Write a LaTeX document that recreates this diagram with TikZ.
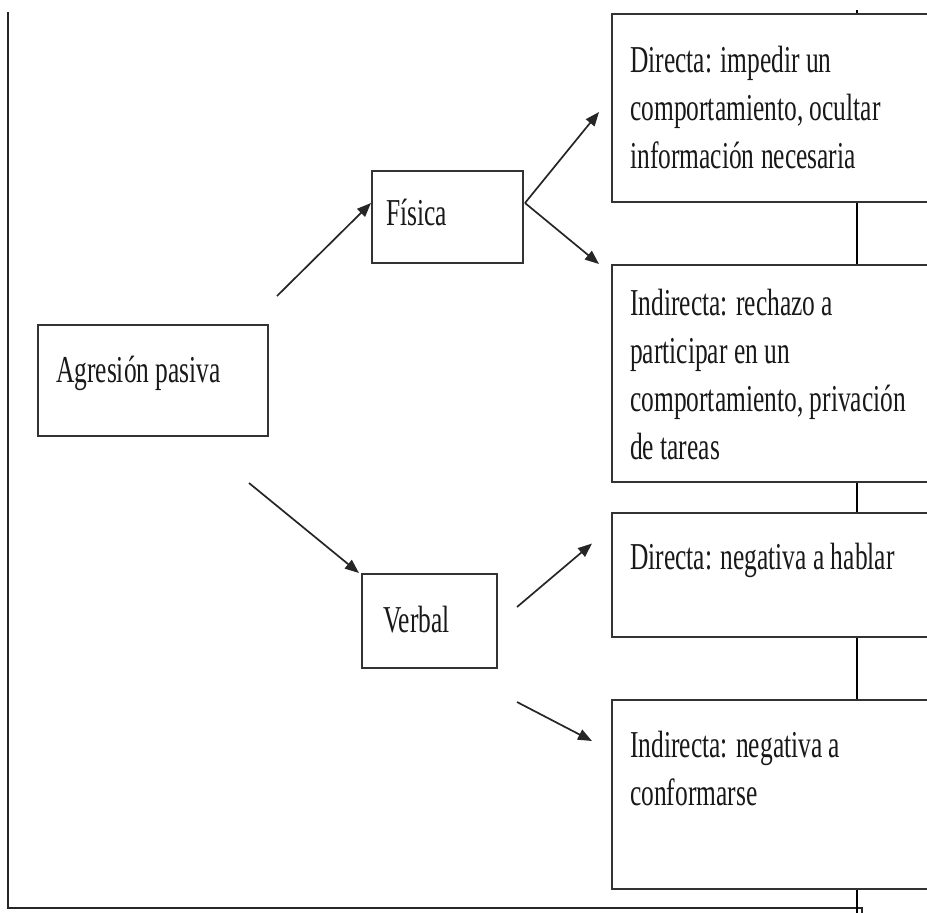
\documentclass[tikz,border=0pt]{standalone}
\usepackage{fontspec}
\setmainfont{Liberation Serif}
\usepackage{graphicx}
\usetikzlibrary{arrows.meta}
\newcommand{\sq}[1]{\scalebox{0.67}[1]{#1}}
\tikzset{
  boxst/.style={draw=black!80, line width=2pt, fill=white, inner sep=0pt},
  txt/.style={anchor=base west, inner sep=0pt, align=left, font=\fontsize{38}{48}\selectfont, text=black!90},
  arr/.style={draw=black!85, line width=1.7pt, -{Triangle[length=14pt,width=11pt]}},
  frame/.style={draw=black!85, line width=2pt}
}
\begin{document}
\begin{tikzpicture}[x=1pt,y=-1pt]
\useasboundingbox (0,0) rectangle (927,913);
\clip (0,0) rectangle (927,913);
% frame
\coordinate (ftop) at (8,12);
\coordinate (fbl) at (8,908);
\coordinate (fbr) at (857,908);
\draw[frame] (ftop) -- (fbl) -- (fbr);
\draw[draw=black!85, line width=1.2pt] (857,908) rectangle (862,916);
% vertical line
\coordinate (vtop) at (857,10);
\coordinate (vbot) at (857,913);
\draw[draw=black, line width=1.6pt] (vtop) -- (vbot);
% left boxes
\node[boxst, minimum width=230pt, minimum height=111pt] (agr) at (153,380.5) {};
\node[boxst, minimum width=151pt, minimum height=92pt] (fis) at (447.5,217) {};
\node[boxst, minimum width=135pt, minimum height=94pt] (ver) at (429.5,621) {};
% right boxes
\node[boxst, minimum width=340pt, minimum height=188pt] (r1) at (782,108) {};
\node[boxst, minimum width=340pt, minimum height=217pt] (r2) at (782,373.5) {};
\node[boxst, minimum width=340pt, minimum height=124pt] (r3) at (782,574.5) {};
\node[boxst, minimum width=340pt, minimum height=189pt] (r4) at (782,794.5) {};
% texts (anchor = baseline of last line)
\node[txt] (tagr) at (56,382) {\sq{Agresión pasiva}};
\node[txt] (tfis) at (386,225) {\sq{Física}};
\node[txt] (tver) at (383,632) {\sq{Verbal}};
\node[txt] (tr1) at (630,168) {\sq{Directa: impedir un}\\\sq{comportamiento, ocultar}\\\sq{información necesaria}};
\node[txt] (tr2) at (630,459) {\sq{Indirecta: rechazo a}\\\sq{participar en un}\\\sq{comportamiento, privación}\\\sq{de tareas}};
\node[txt] (tr3) at (630,569) {\sq{Directa: negativa a hablar}};
\node[txt] (tr4) at (630,805) {\sq{Indirecta: negativa a}\\\sq{conformarse}};
% arrows
\coordinate (s1) at (277,296);
\coordinate (s2) at (249,483);
\coordinate (s3) at (525,203);
\coordinate (s5) at (517,607);
\coordinate (s6) at (517,702);
\draw[arr] (s1) -- ([yshift=14pt]fis.west);
\draw[arr] (s2) -- ([xshift=-2pt]ver.north west);
\draw[arr] (s3) -- ([xshift=-12pt,yshift=-4pt]r1.west);
\draw[arr] (s3) -- ([xshift=-12pt]r2.north west);
\draw[arr] (s5) -- ([xshift=-19pt,yshift=-32pt]r3.north west);
\draw[arr] (s6) -- ([xshift=-19pt,yshift=-42pt]r4.north west);
\end{tikzpicture}
\end{document}
